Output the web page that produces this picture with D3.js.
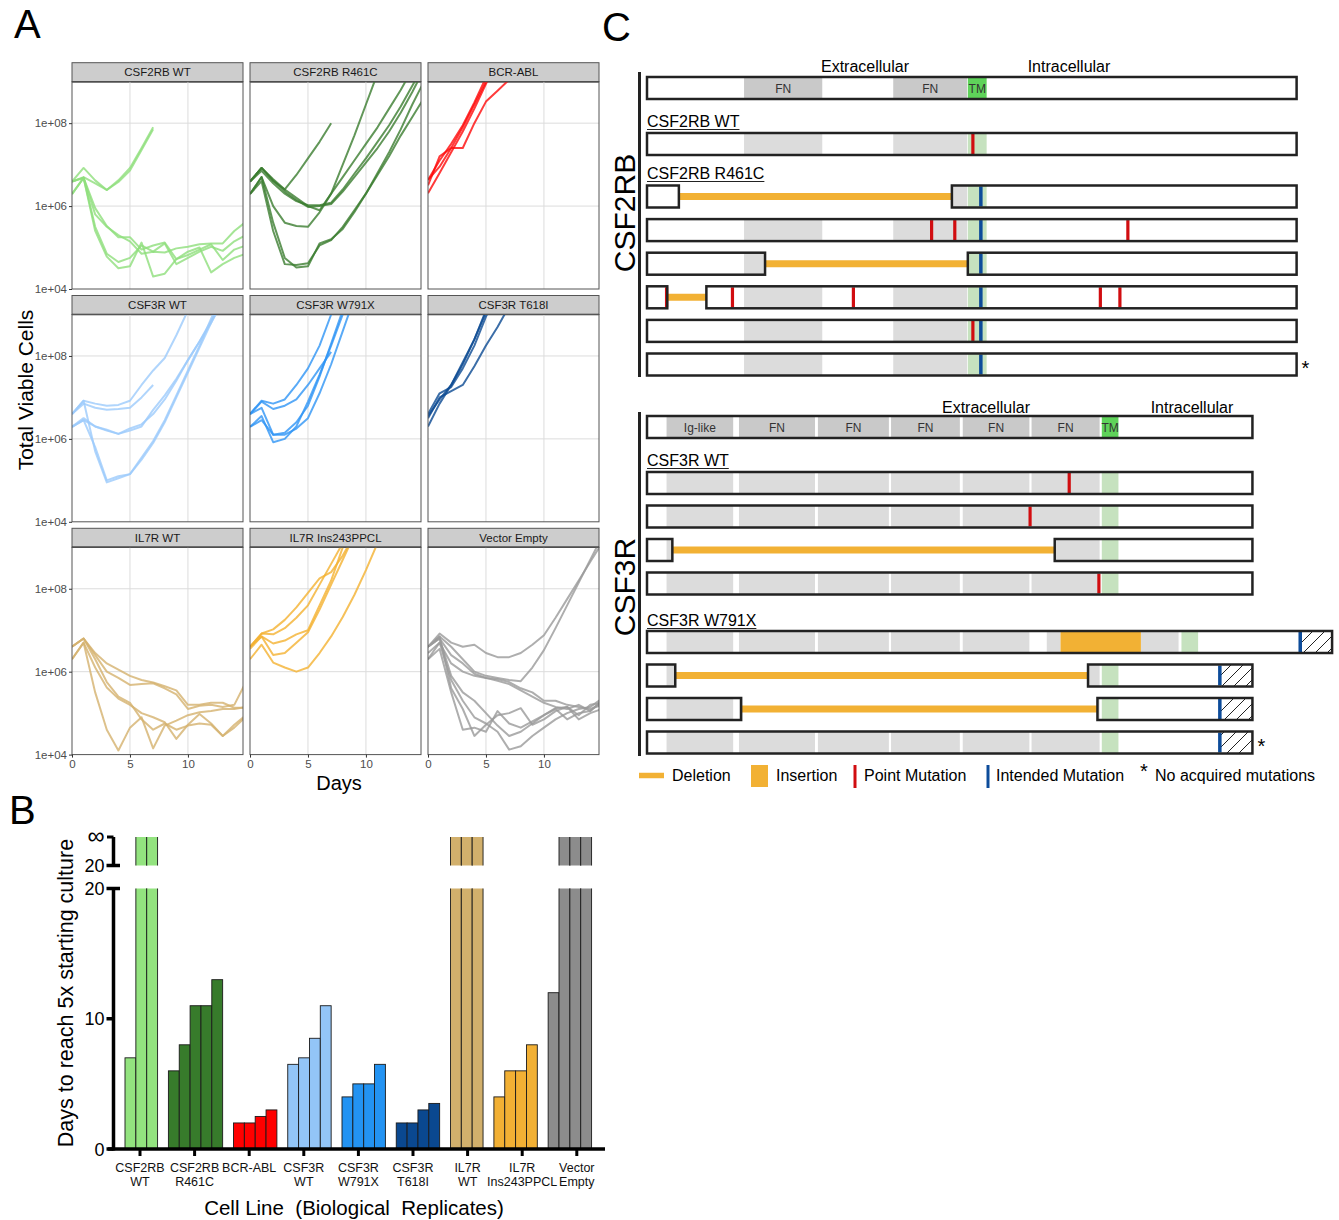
<!DOCTYPE html>
<html>
<head>
<meta charset="utf-8">
<script src="https://cdn.jsdelivr.net/npm/d3@7"></script>
<style>
  body { margin: 0; background: #fff; }
  svg text { font-family: "Liberation Sans", Arial, sans-serif; }
</style>
</head>
<body>
<svg id="fig" width="1339" height="1220"></svg>
<script>
// ---------------- Panel A data: log10(total viable cells) per day, from day 0
const days = d3.range(0, 16);
const facetNames = ["CSF2RB WT", "CSF2RB R461C", "BCR-ABL", "CSF3R WT", "CSF3R W791X",
  "CSF3R T618I", "IL7R WT", "IL7R Ins243PPCL", "Vector Empty"];
const facetColors = ["#8fdf7c", "#3b7d2f", "#ff0a0a", "#9ccbfb", "#2f95f5",
  "#0b4a92", "#d4b16e", "#f4b231", "#9a9a9a"];

const csf2rbWT = [
  [6.59, 6.92, 6.62, 6.39, 6.62, 6.92, 7.40, 7.90],
  [6.59, 6.70, 6.55, 6.39, 6.58, 6.86, 7.35, 7.85],
  [6.29, 6.68, 5.40, 4.78, 4.50, 4.55, 5.12, 4.30, 4.37, 4.72, 4.90, 5.00, 4.40, 4.60, 4.75, 4.85],
  [6.59, 6.68, 5.95, 5.52, 5.25, 5.25, 4.95, 5.05, 5.12, 4.72, 4.82, 4.95, 5.08, 4.70, 4.95, 5.05],
  [6.59, 6.68, 5.80, 5.50, 5.30, 5.15, 4.85, 4.90, 4.88, 4.98, 5.02, 5.08, 5.10, 5.10, 5.40, 5.62],
  [6.29, 6.68, 5.50, 4.85, 4.65, 4.75, 5.05, 4.90, 5.10, 4.60, 4.75, 4.90, 5.02, 4.92, 5.15, 5.30]
];
const csf2rbR461C = [
  [6.59, 6.92, 6.65, 6.40, 6.75, 7.15, 7.55, 8.00],
  [6.59, 6.92, 6.60, 6.40, 6.20, 6.00, 5.90, 6.30, 7.00, 7.70, 8.45, 9.20],
  [6.59, 6.92, 6.62, 6.35, 6.15, 5.98, 6.00, 6.05, 6.35, 6.70, 7.05, 7.40, 7.80, 8.25, 8.75, 9.30],
  [6.59, 6.85, 6.55, 6.30, 6.12, 6.02, 6.02, 6.08, 6.40, 6.78, 7.15, 7.55, 7.95, 8.40, 8.90, 9.40],
  [6.29, 6.70, 6.00, 5.60, 5.52, 5.50, 5.85, 6.30, 6.70, 7.10, 7.50, 7.90, 8.35, 8.80, 9.30],
  [6.29, 6.60, 5.40, 4.60, 4.58, 4.62, 5.05, 5.18, 5.50, 5.90, 6.30, 6.75, 7.20, 7.70, 8.15, 8.60],
  [6.29, 6.70, 5.60, 4.75, 4.52, 4.55, 5.10, 5.20, 5.45, 5.85, 6.30, 6.80, 7.30, 7.85, 8.45, 9.00]
];
const bcrAbl = [
  [6.63, 7.10, 7.50, 7.95, 8.50, 9.10],
  [6.31, 6.80, 7.30, 7.80, 8.35, 8.95, 9.50],
  [6.63, 6.95, 7.40, 7.40, 8.00, 8.52, 8.78, 9.05],
  [6.50, 7.20, 7.40, 7.90, 8.45, 9.00]
];
const csf3rWT = [
  [6.60, 6.92, 6.85, 6.80, 6.82, 6.92, 7.30, 7.65, 7.95, 8.50, 9.10],
  [6.60, 6.85, 6.75, 6.70, 6.72, 6.75, 7.00, 7.30],
  [6.29, 6.50, 6.30, 6.20, 6.12, 6.20, 6.30, 6.70, 7.05, 7.45, 7.90, 8.35, 8.80, 9.30],
  [6.29, 6.45, 6.30, 6.22, 6.12, 6.25, 6.35, 6.60, 6.95, 7.40, 7.90, 8.35, 8.85, 9.30],
  [6.60, 6.92, 5.70, 4.95, 5.05, 5.15, 5.50, 5.90, 6.40, 7.00, 7.60, 8.20, 8.80, 9.40],
  [6.29, 6.45, 5.80, 5.00, 5.10, 5.15, 5.55, 5.95, 6.45, 7.05, 7.65, 8.25, 8.90, 9.50]
];
const csf3rW791X = [
  [6.60, 6.92, 6.85, 6.95, 7.30, 7.70, 8.25, 9.00],
  [6.60, 6.90, 6.72, 6.80, 6.95, 7.30, 7.70, 8.10],
  [6.29, 6.55, 5.92, 6.00, 6.30, 6.90, 7.55, 8.25, 9.00],
  [6.29, 6.45, 6.10, 6.10, 6.25, 6.50, 7.10, 7.80, 8.60, 9.40],
  [6.60, 6.75, 6.10, 6.15, 6.40, 6.80, 7.50, 8.30, 9.10]
];
const csf3rT618I = [
  [6.60, 7.10, 7.25, 7.70, 8.25, 8.95, 9.50],
  [6.30, 6.85, 7.30, 7.85, 8.40, 9.10],
  [6.50, 7.00, 7.15, 7.30, 7.75, 8.25, 8.70, 9.20],
  [6.55, 6.95, 7.30, 7.80, 8.40, 9.05]
];
const il7rWT = [
  [6.60, 6.80, 6.45, 6.20, 6.05, 5.90, 5.80, 5.74, 5.65, 5.55, 5.20, 5.20, 5.25, 5.25, 5.13, 5.13],
  [6.60, 6.80, 6.40, 6.00, 5.85, 5.68, 5.70, 5.72, 5.60, 5.45, 5.10, 5.18, 5.20, 5.15, 5.20, 5.75],
  [6.30, 6.70, 6.10, 5.62, 5.35, 5.20, 5.00, 4.90, 4.78, 4.38, 4.72, 4.98, 4.75, 4.45, 4.72, 4.95],
  [6.30, 6.70, 5.50, 4.60, 4.10, 4.65, 4.90, 4.15, 4.70, 4.82, 4.95, 5.02, 5.05, 5.10, 5.10, 5.15],
  [6.60, 6.80, 6.30, 5.75, 5.40, 5.25, 4.85, 4.60, 4.75, 4.60, 4.70, 4.75, 4.72, 4.45, 4.65, 4.92]
];
const il7rIns = [
  [6.60, 6.92, 7.02, 7.25, 7.55, 7.90, 8.25, 8.40, 8.80, 9.30],
  [6.60, 6.92, 6.90, 7.05, 7.30, 7.60, 8.10, 8.60, 9.10],
  [6.60, 6.85, 6.68, 6.75, 6.90, 7.00, 7.60, 8.20, 9.00],
  [6.55, 6.85, 6.40, 6.45, 6.70, 6.95, 7.50, 8.10, 8.70, 9.30],
  [6.30, 6.65, 6.22, 6.10, 6.00, 6.10, 6.45, 6.85, 7.32, 7.85, 8.45, 9.10]
];
const vectorEmpty = [
  [6.60, 6.92, 6.70, 6.60, 6.65, 6.45, 6.35, 6.35, 6.45, 6.65, 6.88, 7.30, 7.75, 8.20, 8.65, 9.10],
  [6.60, 6.85, 6.60, 6.30, 6.00, 5.90, 5.85, 5.80, 5.77, 6.10, 6.52, 7.05, 7.60, 8.15, 8.70, 9.25],
  [6.60, 6.80, 6.40, 6.20, 5.95, 5.85, 5.82, 5.75, 5.60, 5.50, 5.30, 5.30, 5.20, 5.15, 5.10, 5.20],
  [6.30, 6.70, 6.20, 6.00, 5.90, 5.85, 5.78, 5.70, 5.55, 5.40, 5.25, 5.15, 5.10, 5.20, 5.05, 5.30],
  [6.60, 6.80, 5.90, 5.50, 5.30, 5.00, 4.70, 4.45, 4.55, 4.75, 4.95, 5.12, 5.15, 4.85, 5.00, 5.10],
  [6.30, 6.55, 5.50, 4.60, 4.65, 4.55, 5.05, 4.75, 4.65, 4.80, 4.95, 5.10, 4.85, 5.00, 5.05, 5.30],
  [6.60, 6.85, 5.60, 5.10, 4.45, 4.72, 4.95, 5.00, 5.12, 4.72, 4.85, 5.05, 5.15, 4.95, 5.20, 5.25],
  [6.45, 6.70, 5.80, 5.30, 4.90, 4.75, 4.55, 4.12, 4.20, 4.45, 4.65, 4.85, 5.00, 5.10, 5.15, 5.35]
];
const growth = [csf2rbWT, csf2rbR461C, bcrAbl, csf3rWT, csf3rW791X, csf3rT618I, il7rWT, il7rIns, vectorEmpty];
const yTicksA = [1e4, 1e6, 1e8];
const xTicksA = [0, 5, 10];

// ---------------- Panel B data: days to reach 5x starting culture (Infinity = never)
const cellLines = [["CSF2RB", "WT"], ["CSF2RB", "R461C"], ["BCR-ABL", ""], ["CSF3R", "WT"],
  ["CSF3R", "W791X"], ["CSF3R", "T618I"], ["IL7R", "WT"], ["IL7R", "Ins243PPCL"], ["Vector", "Empty"]];
const daysTo5x = [
  [7, Infinity, Infinity],
  [6, 8, 11, 11, 13],
  [2, 2, 2.5, 3],
  [6.5, 7, 8.5, 11],
  [4, 5, 5, 6.5],
  [2, 2, 3, 3.5],
  [Infinity, Infinity, Infinity],
  [4, 6, 6, 8],
  [12, Infinity, Infinity, Infinity]
];
const barColors = ["#93e37f", "#377b2b", "#ff0000", "#93c5f7", "#2393f2", "#0a4890", "#d2b06c", "#f2b034", "#8c8c8c"];
const yTicksB = [0, 10, 20];

// ---------------- Panel C data: protein maps in amino-acid positions
const csf2rbDomains = [[134, 242], [340, 442]];
const csf2rbDomainLabels = ["FN", "FN"];
const csf2rbTM = [443, 469];
const csf2rbWTRows = [{ boxes: [[0, 897]], points: [450] }];
const csf2rbR461CRows = [
  { boxes: [[0, 44], [421, 897]], deletions: [[44, 421]], intended: [461] },
  { boxes: [[0, 897]], points: [393, 425, 664], intended: [461] },
  { boxes: [[0, 163], [443, 897]], deletions: [[163, 443]], intended: [461] },
  { boxes: [[0, 28], [82, 897]], deletions: [[28, 82]], points: [27, 118, 285, 626, 653], intended: [461] },
  { boxes: [[0, 897]], points: [450], intended: [461] },
  { boxes: [[0, 897]], intended: [461], star: true }
];
const csf3rDomains = [[27, 119], [127, 232], [236, 334], [337, 432], [436, 528], [531, 625]];
const csf3rDomainLabels = ["Ig-like", "FN", "FN", "FN", "FN", "FN"];
const csf3rTM = [628, 651];
const csf3rWTRows = [
  { boxes: [[0, 836]], points: [583] },
  { boxes: [[0, 836]], points: [529] },
  { boxes: [[0, 35], [563, 836]], deletions: [[35, 563]] },
  { boxes: [[0, 836]], points: [624] }
];
const csf3rW791XRows = [
  { boxes: [[0, 946]], insertion: [571, 682], intended: [902], hatch: [902, 946],
    domains: [[27, 119], [127, 232], [236, 334], [337, 432], [436, 528], [552, 571], [682, 734]], tm: [738, 761] },
  { boxes: [[0, 39], [609, 836]], deletions: [[39, 609]], intended: [791], hatch: [791, 836] },
  { boxes: [[0, 130], [622, 836]], deletions: [[130, 622]], intended: [791], hatch: [791, 836] },
  { boxes: [[0, 836]], intended: [791], hatch: [791, 836], star: true }
];
const legendItems = ["Deletion", "Insertion", "Point Mutation", "Intended Mutation", "No acquired mutations"];

const svg = d3.select("#fig");
const ORANGE = "#f2b134", RED = "#d10d10", BLUE = "#0d4c9a";

// panel letters
[["A", 14, 38], ["B", 9, 824], ["C", 602, 41]].forEach(([t, x, y]) => {
  svg.append("text").attr("x", x).attr("y", y).attr("font-size", 40).attr("fill", "#000").text(t);
});

// ================= Panel A =================
const colX = [72, 250, 428];
const rowTop = [62.7, 295.5, 528.3];
const stripH = 19, plotW = 171, plotH = 207.3;
const xA = d3.scaleLinear().domain([0, 14.75]).range([0, plotW]);
const yA = d3.scaleLog().domain([1e4, 1e9]).range([plotH, 0]);
const lineA = d3.line().x((v, i) => xA(days[i])).y(v => yA(Math.pow(10, v)));

growth.forEach((reps, k) => {
  const col = k % 3, row = Math.floor(k / 3);
  const g = svg.append("g").attr("transform", `translate(${colX[col]},${rowTop[row] + stripH})`);

  g.append("rect").attr("y", -stripH).attr("width", plotW).attr("height", stripH)
    .attr("fill", "#cdcdcd").attr("stroke", "#555").attr("stroke-width", 1);
  g.append("line").attr("x1", 0).attr("x2", plotW).attr("y1", 0).attr("y2", 0)
    .attr("stroke", "#333").attr("stroke-width", 1.5);
  g.append("text").attr("x", plotW / 2).attr("y", -5.5).attr("text-anchor", "middle")
    .attr("font-size", 11.5).attr("fill", "#1a1a1a").text(facetNames[k]);

  g.selectAll(".gx").data([5, 10]).join("line")
    .attr("x1", d => xA(d)).attr("x2", d => xA(d)).attr("y1", 0).attr("y2", plotH)
    .attr("stroke", "#dcdcdc").attr("stroke-width", 1);
  g.selectAll(".gy").data([1e6, 1e8]).join("line")
    .attr("y1", d => yA(d)).attr("y2", d => yA(d)).attr("x1", 0).attr("x2", plotW)
    .attr("stroke", "#dcdcdc").attr("stroke-width", 1);

  g.append("clipPath").attr("id", "clipA" + k).append("rect").attr("width", plotW).attr("height", plotH);
  g.append("g").attr("clip-path", `url(#clipA${k})`)
    .selectAll("path").data(reps).join("path")
    .attr("d", lineA).attr("fill", "none").attr("stroke", facetColors[k])
    .attr("stroke-width", 2).attr("stroke-opacity", 0.8).attr("stroke-linejoin", "round");

  g.append("rect").attr("width", plotW).attr("height", plotH)
    .attr("fill", "none").attr("stroke", "#555").attr("stroke-width", 1);

  if (col === 0) {
    const ax = g.append("g").call(d3.axisLeft(yA).tickValues(yTicksA).tickSize(3).tickPadding(2)
      .tickFormat(v => "1e+" + String(Math.round(Math.log10(v))).padStart(2, "0")));
    ax.select(".domain").remove();
    ax.selectAll("line").attr("stroke", "#333");
    ax.selectAll("text").attr("font-size", 11.5).attr("fill", "#4d4d4d");
  }
  if (row === 2) {
    const ax = g.append("g").attr("transform", `translate(0,${plotH})`)
      .call(d3.axisBottom(xA).tickValues(xTicksA).tickSize(3).tickPadding(2));
    ax.select(".domain").remove();
    ax.selectAll("line").attr("stroke", "#333");
    ax.selectAll("text").attr("font-size", 11.5).attr("fill", "#4d4d4d");
  }
});

svg.append("text").attr("transform", "translate(33,390) rotate(-90)").attr("text-anchor", "middle")
  .attr("font-size", 21).text("Total Viable Cells");
svg.append("text").attr("x", 339).attr("y", 790).attr("text-anchor", "middle")
  .attr("font-size", 20).text("Days");

// ================= Panel B =================
// ticks are evenly spaced; bars are laid side by side with a one-bar gap between groups
const xB = d3.scaleBand().domain(d3.range(cellLines.length)).range([112.7, 604.1]);
const slotStart = [];
daysTo5x.reduce((acc, vals, i) => { slotStart[i] = acc; return acc + vals.length + 1; }, 0);
const nSlots = d3.sum(daysTo5x, v => v.length) + daysTo5x.length - 1;
const barW = 10.85;
const xSlot = d3.scaleLinear().domain([0, nSlots]).range([125, 125 + nSlots * barW]);
const yB = d3.scaleLinear().domain([0, 20]).range([1149, 888.5]);
const yInf = d3.scaleLinear().domain([0, 1]).range([865.5, 837]); // "20" .. "∞" segment
const gB = svg.append("g");

daysTo5x.forEach((vals, i) => {
  const cx = xB(i) + xB.bandwidth() / 2;
  vals.forEach((v, j) => {
    const x0 = xSlot(slotStart[i] + j);
    if (isFinite(v)) {
      gB.append("rect").attr("x", x0).attr("y", yB(v)).attr("width", barW).attr("height", yB(0) - yB(v))
        .attr("fill", barColors[i]).attr("stroke", "#1a1a1a").attr("stroke-width", 0.9);
    } else {
      [[yB(20), yB(0)], [yInf(1), yInf(0)]].forEach(([t, b]) => {
        gB.append("rect").attr("x", x0).attr("y", t).attr("width", barW).attr("height", b - t)
          .attr("fill", barColors[i]);
        [x0, x0 + barW].forEach(xx => gB.append("line").attr("x1", xx).attr("x2", xx)
          .attr("y1", t).attr("y2", b).attr("stroke", "#1a1a1a").attr("stroke-width", 0.9));
      });
    }
  });
  gB.append("line").attr("x1", cx).attr("x2", cx).attr("y1", yB(0)).attr("y2", yB(0) + 7)
    .attr("stroke", "#000").attr("stroke-width", 3);
  const lbl = gB.append("text").attr("text-anchor", "middle").attr("font-size", 12.5).attr("fill", "#111");
  lbl.append("tspan").attr("x", cx).attr("y", 1172).text(cellLines[i][0]);
  lbl.append("tspan").attr("x", cx).attr("y", 1185.5).text(cellLines[i][1]);
});

// axes with the break
gB.append("line").attr("x1", 108).attr("x2", 605).attr("y1", yB(0)).attr("y2", yB(0))
  .attr("stroke", "#000").attr("stroke-width", 3.5);
gB.append("line").attr("x1", 113.5).attr("x2", 113.5).attr("y1", yB(20)).attr("y2", yB(0) + 1.5)
  .attr("stroke", "#000").attr("stroke-width", 3.5);
yTicksB.forEach(t => {
  gB.append("line").attr("x1", 106.5).attr("x2", t === 20 ? 120 : 113.5).attr("y1", yB(t)).attr("y2", yB(t))
    .attr("stroke", "#000").attr("stroke-width", 3.5);
  gB.append("text").attr("x", 104.5).attr("y", yB(t) + 6.5).attr("text-anchor", "end")
    .attr("font-size", 18).text(t);
});
gB.append("line").attr("x1", 113.5).attr("x2", 113.5).attr("y1", yInf(1)).attr("y2", yInf(0))
  .attr("stroke", "#000").attr("stroke-width", 3.5);
gB.append("line").attr("x1", 107).attr("x2", 113.5).attr("y1", yInf(1)).attr("y2", yInf(1))
  .attr("stroke", "#000").attr("stroke-width", 3);
gB.append("line").attr("x1", 106.5).attr("x2", 120).attr("y1", yInf(0)).attr("y2", yInf(0))
  .attr("stroke", "#000").attr("stroke-width", 3.5);
gB.append("text").attr("x", 104.5).attr("y", yInf(0) + 6.5).attr("text-anchor", "end").attr("font-size", 18).text("20");
gB.append("text").attr("x", 104.5).attr("y", yInf(1) + 7).attr("text-anchor", "end").attr("font-size", 24).text("∞");

gB.append("text").attr("transform", "translate(73,993) rotate(-90)").attr("text-anchor", "middle")
  .attr("font-size", 21.5).text("Days to reach 5x starting culture");
gB.append("text").attr("x", 354).attr("y", 1215).attr("text-anchor", "middle").attr("font-size", 20.5)
  .style("white-space", "pre").text("Cell Line  (Biological  Replicates)");

// ================= Panel C =================
const aaX = d3.scaleLinear().domain([0, 100]).range([647, 647 + 72.42]);
const rowH = 22;
const defs = svg.append("defs");
defs.append("pattern").attr("id", "hatch").attr("patternUnits", "userSpaceOnUse")
  .attr("width", 12).attr("height", 12)
  .append("path").attr("d", "M0,12 L12,0 M-3,3 L3,-3 M9,15 L15,9")
  .attr("stroke", "#222").attr("stroke-width", 1);

let clipN = 0;
function drawRow(y, r, doms, tm, header, labels) {
  const g = svg.append("g");
  const domList = r.domains || doms;
  const tmR = r.tm || tm;
  (r.deletions || []).forEach(([a, b]) => {
    g.append("line").attr("x1", aaX(a)).attr("x2", aaX(b)).attr("y1", y + rowH / 2).attr("y2", y + rowH / 2)
      .attr("stroke", ORANGE).attr("stroke-width", 7);
  });
  r.boxes.forEach(([a, b]) => {
    const id = "clipC" + (clipN++);
    g.append("clipPath").attr("id", id).append("rect")
      .attr("x", aaX(a)).attr("y", y).attr("width", aaX(b) - aaX(a)).attr("height", rowH);
    const inner = g.append("g").attr("clip-path", `url(#${id})`);
    inner.append("rect").attr("x", aaX(a)).attr("y", y).attr("width", aaX(b) - aaX(a)).attr("height", rowH).attr("fill", "#fff");
    domList.forEach(([s, e]) => inner.append("rect").attr("x", aaX(s)).attr("y", y)
      .attr("width", aaX(e) - aaX(s)).attr("height", rowH).attr("fill", header ? "#c9c9c9" : "#dcdcdc"));
    inner.append("rect").attr("x", aaX(tmR[0])).attr("y", y).attr("width", aaX(tmR[1]) - aaX(tmR[0]))
      .attr("height", rowH).attr("fill", header ? "#5fd35a" : "#c6e2bf");
    if (r.insertion) inner.append("rect").attr("x", aaX(r.insertion[0])).attr("y", y)
      .attr("width", aaX(r.insertion[1]) - aaX(r.insertion[0])).attr("height", rowH).attr("fill", ORANGE);
    if (r.hatch) inner.append("rect").attr("x", aaX(r.hatch[0])).attr("y", y)
      .attr("width", aaX(r.hatch[1]) - aaX(r.hatch[0])).attr("height", rowH).attr("fill", "url(#hatch)");
    if (header) {
      domList.forEach(([s, e], i) => inner.append("text").attr("x", (aaX(s) + aaX(e)) / 2).attr("y", y + 15.5)
        .attr("text-anchor", "middle").attr("font-size", 12).attr("fill", "#333").text(labels[i]));
      inner.append("text").attr("x", (aaX(tmR[0]) + aaX(tmR[1])) / 2).attr("y", y + 15.5)
        .attr("text-anchor", "middle").attr("font-size", 12).attr("fill", "#333").text("TM");
    }
  });
  (r.points || []).forEach(p => g.append("line").attr("x1", aaX(p)).attr("x2", aaX(p))
    .attr("y1", y + 1).attr("y2", y + rowH - 1).attr("stroke", RED).attr("stroke-width", 3.2));
  (r.intended || []).forEach(p => g.append("line").attr("x1", aaX(p)).attr("x2", aaX(p))
    .attr("y1", y + 1).attr("y2", y + rowH - 1).attr("stroke", BLUE).attr("stroke-width", 3.5));
  r.boxes.forEach(([a, b]) => g.append("rect").attr("x", aaX(a)).attr("y", y)
    .attr("width", aaX(b) - aaX(a)).attr("height", rowH)
    .attr("fill", "none").attr("stroke", "#222").attr("stroke-width", 2.5));
  if (r.star) {
    const end = d3.max(r.boxes, d => d[1]);
    g.append("text").attr("x", aaX(end) + 5).attr("y", y + 21).attr("font-size", 20).text("*");
  }
}

function label(x, y, t) {
  const txt = svg.append("text").attr("x", x).attr("y", y).attr("font-size", 16).text(t);
  const w = txt.node().getComputedTextLength();
  svg.append("line").attr("x1", x).attr("x2", x + w).attr("y1", y + 2.5).attr("y2", y + 2.5)
    .attr("stroke", "#222").attr("stroke-width", 1.2);
}

// CSF2RB block
svg.append("line").attr("x1", 639.5).attr("x2", 639.5).attr("y1", 72).attr("y2", 377)
  .attr("stroke", "#222").attr("stroke-width", 3);
svg.append("text").attr("transform", "translate(635,213) rotate(-90)").attr("text-anchor", "middle")
  .attr("font-size", 30).text("CSF2RB");
svg.append("text").attr("x", 865).attr("y", 72).attr("text-anchor", "middle").attr("font-size", 16).text("Extracellular");
svg.append("text").attr("x", 1069).attr("y", 72).attr("text-anchor", "middle").attr("font-size", 16).text("Intracellular");
drawRow(77, { boxes: [[0, 897]] }, csf2rbDomains, csf2rbTM, true, csf2rbDomainLabels);
label(647, 127, "CSF2RB WT");
csf2rbWTRows.forEach(r => drawRow(133, r, csf2rbDomains, csf2rbTM, false));
label(647, 179, "CSF2RB R461C");
csf2rbR461CRows.forEach((r, i) => drawRow(185.5 + i * 33.6, r, csf2rbDomains, csf2rbTM, false));

// CSF3R block
svg.append("line").attr("x1", 639.5).attr("x2", 639.5).attr("y1", 412).attr("y2", 756)
  .attr("stroke", "#222").attr("stroke-width", 3);
svg.append("text").attr("transform", "translate(635,587) rotate(-90)").attr("text-anchor", "middle")
  .attr("font-size", 30).text("CSF3R");
svg.append("text").attr("x", 986).attr("y", 413).attr("text-anchor", "middle").attr("font-size", 16).text("Extracellular");
svg.append("text").attr("x", 1192).attr("y", 413).attr("text-anchor", "middle").attr("font-size", 16).text("Intracellular");
drawRow(416, { boxes: [[0, 836]] }, csf3rDomains, csf3rTM, true, csf3rDomainLabels);
label(647, 466, "CSF3R WT");
csf3rWTRows.forEach((r, i) => drawRow(472 + i * 33.5, r, csf3rDomains, csf3rTM, false));
label(647, 626, "CSF3R W791X");
csf3rW791XRows.forEach((r, i) => drawRow(631 + i * 33.5, r, csf3rDomains, csf3rTM, false));

// legend
const lg = svg.append("g");
const lgX = [639, 751, 855, 988, 1140];
lg.append("line").attr("x1", lgX[0]).attr("x2", lgX[0] + 25).attr("y1", 775.5).attr("y2", 775.5)
  .attr("stroke", ORANGE).attr("stroke-width", 5.5);
lg.append("rect").attr("x", lgX[1]).attr("y", 765).attr("width", 17).attr("height", 22).attr("fill", ORANGE);
lg.append("line").attr("x1", lgX[2]).attr("x2", lgX[2]).attr("y1", 765).attr("y2", 788).attr("stroke", RED).attr("stroke-width", 3);
lg.append("line").attr("x1", lgX[3]).attr("x2", lgX[3]).attr("y1", 765).attr("y2", 788).attr("stroke", BLUE).attr("stroke-width", 3);
lg.append("text").attr("x", lgX[4]).attr("y", 778).attr("font-size", 20).text("*");
const lgTextX = [672, 776, 864, 996, 1155];
legendItems.forEach((t, i) => lg.append("text").attr("x", lgTextX[i]).attr("y", 781).attr("font-size", 16).text(t));
</script>
</body>
</html>
